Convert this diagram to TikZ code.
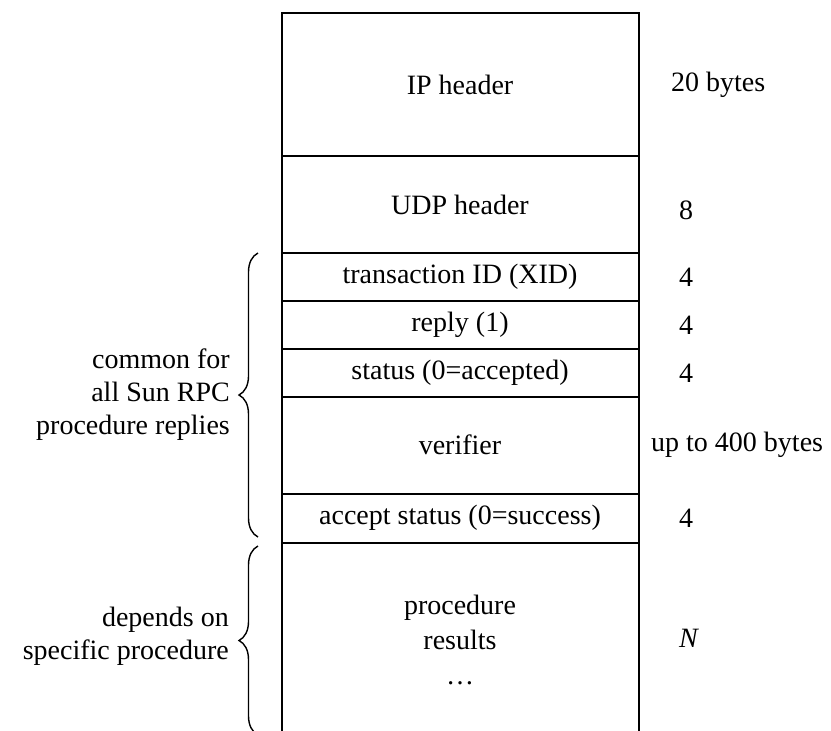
\documentclass[tikz,border=0pt]{standalone}
\usepackage{fontspec}
\setmainfont{Liberation Serif}
\usetikzlibrary{decorations.pathreplacing}
\begin{document}
\begin{tikzpicture}[x=1pt,y=-1pt,
  every node/.style={font=\fontsize{28}{33}\selectfont, inner sep=0pt},
  frame/.style={line width=1.6pt},
  field/.style={anchor=center},
  size/.style={anchor=west},
  side/.style={anchor=east, align=right},
  bracestyle/.style={line width=1.4pt, decorate, decoration={brace, amplitude=19pt, aspect=0.5}}]
\useasboundingbox (0,0) rectangle (831,731);
% outline (open at bottom)
\draw[frame] (282,731) -- (282,13) -- (639,13) -- (639,731);
\foreach \y in {156,253,301,349,397,494,543}
  \draw[frame] (282,\y) -- (639,\y);
% field texts
\node[field] (ip)  at (460,85)  {IP header};
\node[field] (udp) at (460,205) {UDP header};
\node[field] (xid) at (460,277) {transaction ID (XID)};
\node[field] (rep) at (460,325) {reply (1)};
\node[field] (sta) at (460,373) {status (0=accepted)};
\node[field] (ver) at (460,445) {verifier};
\node[field] (acc) at (460,518) {accept status (0=success)};
\node[field, align=center, font=\fontsize{28}{35}\selectfont] (res) at (460,640) {procedure\\results\\\dots};
% sizes
\node[size] (s1) at (671,85)  {20 bytes};
\node[size] (s2) at (679,210) {8};
\node[size] (s3) at (679,277) {4};
\node[size] (s4) at (679,325) {4};
\node[size] (s5) at (679,373) {4};
\node[size] (s6) at (651,445) {up to 400 bytes};
\node[size] (s7) at (679,518) {4};
\node[size] (s8) at (679,638) {\itshape N};
% braces
\coordinate (b1t) at (258,253);
\coordinate (b1b) at (258,537);
\coordinate (b2t) at (258,546);
\coordinate (b2b) at (258,735);
\draw[bracestyle] (b1b) -- (b1t);
\draw[bracestyle] (b2b) -- (b2t);
\node[side] (c1) at (230,395) {common for\\all Sun RPC\\procedure replies};
\node[side] (c2) at (229,636) {depends on\\specific procedure};
\end{tikzpicture}
\end{document}
